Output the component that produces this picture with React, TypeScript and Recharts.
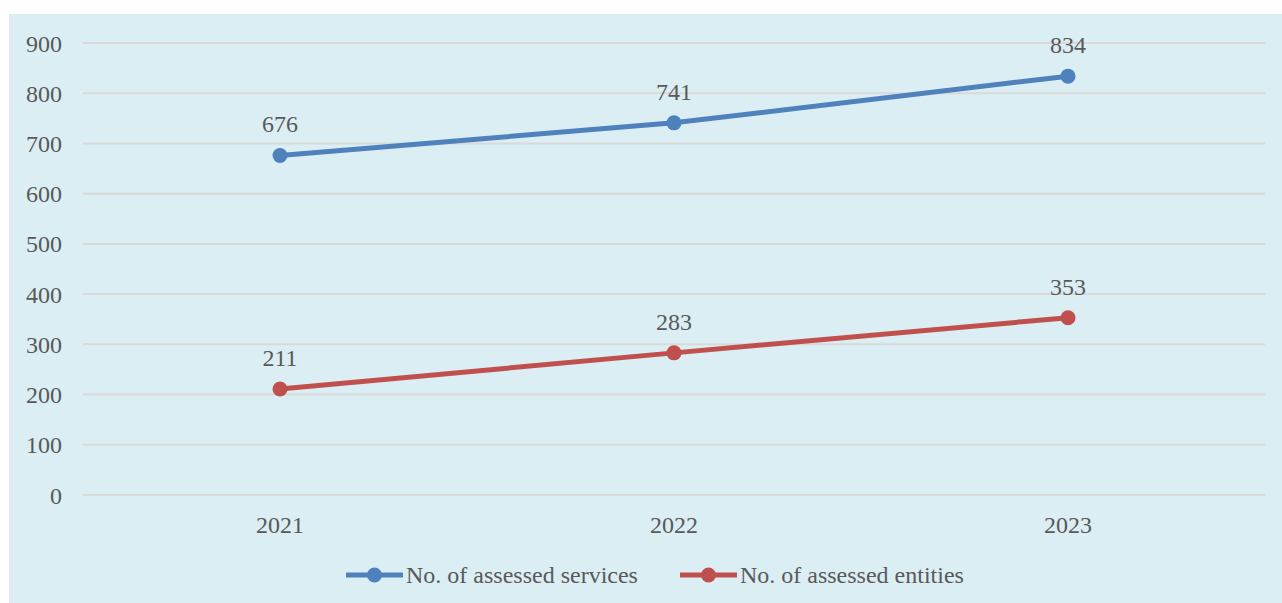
import React from 'react';
import { LineChart, Line, XAxis, YAxis, CartesianGrid, Legend, LabelList } from 'recharts';

const years = ['2021', '2022', '2023'];
const services = [676, 741, 834];
const entities = [211, 283, 353];
const yTicks = [0, 100, 200, 300, 400, 500, 600, 700, 800, 900];

const data = years.map((y, i) => ({ year: y, services: services[i], entities: entities[i] }));

const FONT = '"Liberation Serif", "Times New Roman", serif';
const TEXT = '#595959';
const BLUE = '#4F81BD';
const RED = '#C0504D';

const legendItems = [
  { name: 'No. of assessed services', color: BLUE },
  { name: 'No. of assessed entities', color: RED },
];

const CustomLegend = () => (
  <div style={{ height: 56, display: 'flex', alignItems: 'center', paddingLeft: 337, fontFamily: FONT, fontSize: 24, color: TEXT }}>
    {legendItems.map((it, i) => (
      <div key={it.name} style={{ display: 'flex', alignItems: 'center', marginRight: i === 0 ? 42 : 0 }}>
        <svg width={57} height={16} style={{ marginRight: 3 }}>
          <line x1={0} y1={8} x2={57} y2={8} stroke={it.color} strokeWidth={5} />
          <circle cx={28.5} cy={8} r={7.5} fill={it.color} />
        </svg>
        <span>{it.name}</span>
      </div>
    ))}
  </div>
);

export default function App() {
  return (
    <div style={{ position: 'absolute', left: 9, top: 14, width: 1273, height: 589, background: '#DBEEF4' }}>
      <LineChart width={1273} height={589} data={data} margin={{ top: 29, right: 17, left: 0, bottom: 0 }}>
        <CartesianGrid vertical={false} stroke="#D9D9D9" strokeWidth={2} />
        <XAxis
          dataKey="year"
          axisLine={false}
          tickLine={false}
          tickSize={0}
          tickMargin={21}
          height={52}
          padding={{ left: 197, right: 197 }}
          tick={{ fill: TEXT, fontSize: 24, fontFamily: FONT }}
        />
        <YAxis
          domain={[0, 900]}
          ticks={yTicks}
          axisLine={false}
          tickLine={false}
          tickSize={0}
          tickMargin={21}
          width={74}
          interval={0}
          tick={{ fill: TEXT, fontSize: 24, fontFamily: FONT }}
        />
        <Legend verticalAlign="bottom" content={<CustomLegend />} />
        <Line dataKey="services" name="No. of assessed services" stroke={BLUE} strokeWidth={5}
          dot={{ r: 7.5, fill: BLUE, stroke: BLUE, strokeWidth: 0 }} activeDot={false} isAnimationActive={false}>
          <LabelList dataKey="services" position="top" offset={23} fill={TEXT} fontSize={24} fontFamily={FONT} />
        </Line>
        <Line dataKey="entities" name="No. of assessed entities" stroke={RED} strokeWidth={5}
          dot={{ r: 7.5, fill: RED, stroke: RED, strokeWidth: 0 }} activeDot={false} isAnimationActive={false}>
          <LabelList dataKey="entities" position="top" offset={23} fill={TEXT} fontSize={24} fontFamily={FONT} />
        </Line>
      </LineChart>
    </div>
  );
}
